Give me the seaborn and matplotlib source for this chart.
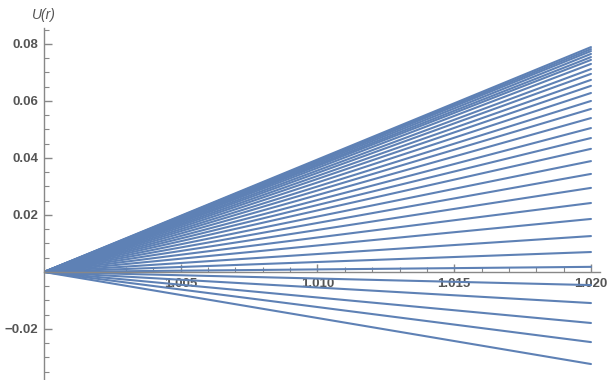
import matplotlib
matplotlib.use('Agg')
import matplotlib.pyplot as plt
import seaborn as sns
import pandas as pd
from matplotlib.ticker import MultipleLocator, FixedLocator

# radius range of every curve
r_values = [1.0, 1.02]

# U(r) at r = 1.02 for each curve (all curves start at U = 0)
end_positive = [0.0018, 0.0070, 0.0126, 0.0186, 0.0242, 0.0295, 0.0344, 0.0389,
                0.0432, 0.0470, 0.0505, 0.0540, 0.0572, 0.0600, 0.0628, 0.0653,
                0.0674, 0.0695, 0.0712, 0.0730, 0.0744, 0.0754, 0.0765, 0.0775,
                0.0782, 0.0789]
end_negative = [-0.0046, -0.0109, -0.0179, -0.0246, -0.0323]

y_ticks = [-0.02, 0.02, 0.04, 0.06, 0.08]
x_ticks = [1.005, 1.010, 1.015, 1.020]


def main():
    sns.set_style('white')
    plt.rcParams['font.family'] = ['Liberation Sans', 'DejaVu Sans']

    rows = []
    for i, v in enumerate(end_positive + end_negative):
        rows.append({'curve': i, 'r': r_values[0], 'U': 0.0})
        rows.append({'curve': i, 'r': r_values[1], 'U': v})
    df = pd.DataFrame(rows)

    fig = plt.figure(figsize=(6.1, 3.8), dpi=100)
    ax = fig.add_axes([44 / 610, 0.0, 556 / 610, 352 / 380])

    sns.lineplot(data=df, x='r', y='U', units='curve', estimator=None,
                 color='#5E81B5', linewidth=1.5, ax=ax, legend=False)

    ax.set_xlim(1.0, 1.02033)
    ax.set_ylim(-0.0379, 0.0856)

    axis_gray = '#888888'
    for side in ['top', 'right']:
        ax.spines[side].set_visible(False)
    ax.spines['bottom'].set_position(('data', 0))
    ax.spines['left'].set_position(('data', 1.0))
    for side in ['bottom', 'left']:
        ax.spines[side].set_color(axis_gray)
        ax.spines[side].set_linewidth(1.0)

    ax.xaxis.set_major_locator(FixedLocator(x_ticks))
    ax.xaxis.set_minor_locator(MultipleLocator(0.001))
    ax.yaxis.set_major_locator(FixedLocator(y_ticks))
    ax.yaxis.set_minor_locator(MultipleLocator(0.005))
    ax.set_xticklabels([f'{t:.3f}' for t in x_ticks])
    ax.set_yticklabels([f'{t:.2f}'.replace('-', '\u2212') for t in y_ticks])

    ax.tick_params(axis='both', which='major', direction='in', length=6,
                   width=1.0, color=axis_gray, labelsize=9.5,
                   labelcolor='#555555', pad=4)
    ax.tick_params(axis='both', which='minor', direction='in', length=3.5,
                   width=0.8, color=axis_gray)
    ax.tick_params(axis='y', left=True, which='both')
    ax.tick_params(axis='x', bottom=True, which='both')
    for lbl in ax.get_xticklabels() + ax.get_yticklabels():
        lbl.set_fontweight('semibold')

    ax.set_xlabel('')
    ax.set_ylabel('')
    ax.text(1.0, 1.037, 'U(r)', transform=ax.get_xaxis_transform(),
            ha='center', va='center', fontsize=10, fontstyle='italic',
            color='#555555')
    ax.patch.set_alpha(0)

    fig.savefig('out.png', dpi=100)


if __name__ == '__main__':
    main()
